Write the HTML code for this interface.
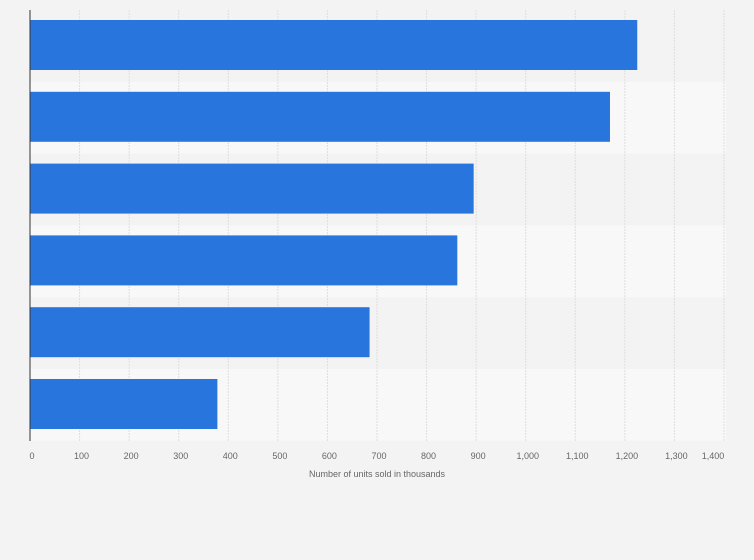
<!DOCTYPE html>
<html><head><meta charset="utf-8"><style>
body{margin:0;background:#f3f3f3;font-family:"Liberation Sans",sans-serif}
svg{display:block}
</style></head><body>
<svg id="c" width="754" height="560"></svg>
<script>
const categories=["A","B","C","D","E","F"];
const values=[1225,1170,895,862,685,378];
const ticks=[0,100,200,300,400,500,600,700,800,900,1000,1100,1200,1300,1400];
const tickLabels=["0","100","200","300","400","500","600","700","800","900","1,000","1,100","1,200","1,300","1,400"];
const NS="http://www.w3.org/2000/svg";
const svg=document.getElementById('c');
const x0=30,x1=724,y0=10,rowH=71.8;
const xs=v=>x0+(x1-x0)*v/1400;
function mk(t,a,p){const e=document.createElementNS(NS,t);for(const k in a)e.setAttribute(k,a[k]);(p||svg).appendChild(e);return e;}
categories.forEach((c,i)=>{
 const r=mk('rect',{x:x0,y:y0+i*rowH,width:726-x0,height:rowH,fill:i%2?'#f8f8f8':'#f3f3f3'});
 
 
});
ticks.forEach((t,i)=>{
 const l=mk('line',{x1:xs(t),x2:xs(t),y1:y0,y2:441,stroke:'#dedede','stroke-dasharray':'2,1','stroke-width':1});
 
 
 const tx=mk('text',{x:i==ticks.length-1?xs(t)-11:xs(t)+2,y:459,'font-size':9,fill:'#666','text-anchor':'middle'});
 tx.textContent=tickLabels[i];
 
 
});
values.forEach((v,i)=>{
 const b=mk('rect',{x:x0,y:y0+i*rowH+10,width:xs(v)-x0,height:50,fill:'#2876dd'});
 
 
});
const ax=mk('line',{x1:x0,x2:x0,y1:y0,y2:441,stroke:'#333','stroke-width':1});


const tt=mk('text',{x:377,y:477,'font-size':9,fill:'#666','text-anchor':'middle'});
tt.textContent='Number of units sold in thousands';


</script>
</body></html>
